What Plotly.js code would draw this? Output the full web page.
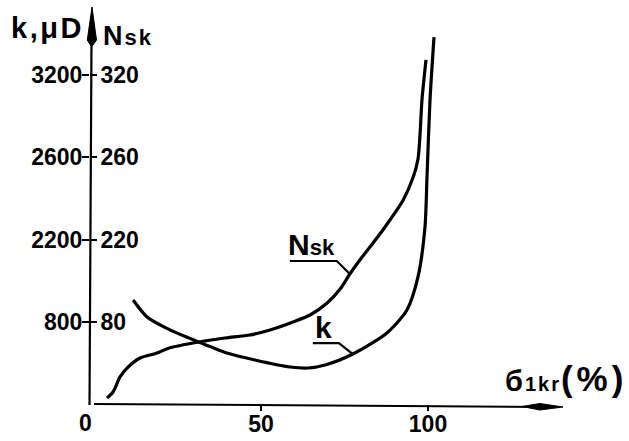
<!DOCTYPE html>
<html><head><meta charset="utf-8">
<script src="https://cdn.plot.ly/plotly-3.0.1.min.js"></script>
<style>html,body{margin:0;padding:0;background:#fff}</style>
</head><body>
<div id="chart" style="width:629px;height:441px"></div>
<script>
// ---- data (x: б1kr in %) ----
const nskX   = [3.9, 5.7, 7.8, 9.9, 13.8, 18.9, 22.5, 31.4, 39.2, 46.7, 52.7, 59.6, 64.7, 69.8, 73.7, 76.6, 79.6, 84.7, 88.6, 92.5, 95.5, 97.0, 97.6, 98.2, 99.4];
const nskVal = [5.8, 11.7, 26.3, 35, 44.7, 49.6, 54.5, 60.3, 64.2, 67.1, 72.0, 79.8, 91.5, 111.9, 135.7, 161.3, 185.1, 220.7, 229.5, 239, 250, 259, 276, 302, 331];
const kX     = [11.7, 15.8, 21.8, 31.4, 39.8, 48.2, 58.7, 64.1, 69.2, 77.5, 87.7, 93.7, 97.0, 99.1, 99.7, 100.6, 101.8];
const kVal   = [1170, 886, 736, 603, 496, 428, 360, 350, 379, 486, 691, 1000, 1562, 2261, 2504, 3018, 3477];

// axis labels (the drawn axis is broken: labelled ticks are equally spaced)
const kBreaks   = [0, 800, 2200, 2600, 3200];
const nskBreaks = [0, 80, 220, 260, 320];
const kTickVals   = [800, 2200, 2600, 3200];
const kTickText   = ['800', '2200', '2600', '3200'];
const nskTickVals = [80, 220, 260, 320];
const nskTickText = ['80', '220', '260', '320'];
const xTickVals = [50, 100];
const xTickText = ['50', '100'];
const nskLabelIdx = 15, kLabelIdx = 9;

// piecewise scale of the broken axis: labelled ticks sit one division apart
function toAxis(v, breaks) {
  let i = 1;
  while (i < breaks.length - 1 && v > breaks[i]) i++;
  const a = breaks[i - 1], b = breaks[i];
  return (i - 1) + (v - a) / (b - a);
}

const W = 629, H = 441, L = 90, B = 37, T = 0, R = 0;
const plotW = W - L - R, plotH = H - T - B;
const pxPerX = 3.34, x0px = 94, pxPerDiv = 82.25;
const xRange = [(L - x0px) / pxPerX, (W - R - x0px) / pxPerX];
const yRange = [0, plotH / pxPerDiv];
const PX = p => (p - L) / plotW;
const PY = p => (H - B - p) / plotH;

const FONT = 'Liberation Sans, Arial, sans-serif';
const ink = '#000';

const traces = [
  { x: nskX, y: nskVal.map(v => toAxis(v, nskBreaks)), yaxis: 'y2', mode: 'lines',
    line: { color: ink, width: 3.2, shape: 'spline', smoothing: 0.7 }, hoverinfo: 'skip', showlegend: false },
  { x: kX, y: kVal.map(v => toAxis(v, kBreaks)), yaxis: 'y', mode: 'lines',
    line: { color: ink, width: 3.2, shape: 'spline', smoothing: 0.7 }, hoverinfo: 'skip', showlegend: false }
];

const tickFont = { family: FONT, size: 23, color: ink, weight: 'bold' };

const nTipX = nskX[nskLabelIdx], nTipY = toAxis(nskVal[nskLabelIdx], nskBreaks);
const kTipX = kX[kLabelIdx], kTipY = toAxis(kVal[kLabelIdx], kBreaks);

const layout = {
  width: W, height: H,
  margin: { l: L, r: R, t: T, b: B, pad: 0 },
  paper_bgcolor: '#fff', plot_bgcolor: '#fff',
  showlegend: false,
  xaxis: { range: xRange, tickvals: xTickVals, ticktext: xTickText, ticks: 'outside', ticklen: 6,
           tickwidth: 2, tickcolor: ink, showgrid: false, zeroline: false, showline: false,
           tickfont: tickFont, ticklabelstandoff: -7, fixedrange: true },
  yaxis: { range: yRange, tickvals: kTickVals.map(v => toAxis(v, kBreaks)), ticktext: kTickText,
           ticks: 'outside', ticklen: 7, tickwidth: 2, tickcolor: ink, showgrid: false,
           zeroline: false, showline: false, tickfont: tickFont, ticklabelstandoff: -5, fixedrange: true },
  yaxis2: { range: yRange, overlaying: 'y', side: 'left', anchor: 'x',
            tickvals: nskTickVals.map(v => toAxis(v, nskBreaks)), ticktext: nskTickText,
            ticks: 'inside', ticklen: 7, tickwidth: 2, tickcolor: ink, ticklabelposition: 'inside',
            ticklabelstandoff: 5,
            showgrid: false, zeroline: false, showline: false, tickfont: tickFont, fixedrange: true },
  shapes: [
    // y axis line + arrow head
    { type: 'line', xref: 'paper', yref: 'paper', x0: PX(89.5), y0: PY(405), x1: PX(91.5), y1: PY(40),
      line: { color: ink, width: 2.2 } },
    { type: 'path', xref: 'paper', yref: 'paper',
      path: `M${PX(92)},${PY(7)} L${PX(87.3)},${PY(40)} L${PX(91.5)},${PY(47)} L${PX(96.5)},${PY(40)} Z`,
      fillcolor: ink, line: { color: ink, width: 1 } },
    // x axis line + arrow head
    { type: 'line', xref: 'paper', yref: 'paper', x0: PX(94), y0: PY(404), x1: PX(545), y1: PY(407),
      line: { color: ink, width: 2 } },
    { type: 'path', xref: 'paper', yref: 'paper',
      path: `M${PX(563)},${PY(407)} L${PX(540)},${PY(403.5)} L${PX(522)},${PY(406.5)} L${PX(540)},${PY(410)} Z`,
      fillcolor: ink, line: { color: ink, width: 1 } },
    // leader lines of the curve labels
    { type: 'path', xref: 'x', yref: 'y', xsizemode: 'pixel', ysizemode: 'pixel',
      xanchor: nTipX, yanchor: nTipY, path: 'M0,0 L-13,13 L-60,13', line: { color: ink, width: 2.2 } },
    { type: 'path', xref: 'x', yref: 'y', xsizemode: 'pixel', ysizemode: 'pixel',
      xanchor: kTipX, yanchor: kTipY, path: 'M0,0 L-14,11 L-40,11', line: { color: ink, width: 2.2 } }
  ],
  annotations: [
    { xref: 'paper', yref: 'paper', x: PX(47.5), y: PY(28), xanchor: 'center', yanchor: 'middle',
      text: '<span style="letter-spacing:2.5px">k,μD</span>', showarrow: false,
      font: { family: FONT, size: 29, color: ink, weight: 'bold' } },
    { xref: 'paper', yref: 'paper', x: PX(101), y: PY(36), xanchor: 'left', yanchor: 'middle',
      text: '<span style="letter-spacing:2px">N</span><span style="font-size:22px;letter-spacing:2px">sk</span>', showarrow: false,
      font: { family: FONT, size: 27, color: ink, weight: 'bold' } },
    { xref: 'paper', yref: 'paper', x: PX(85.5), y: PY(423), xanchor: 'center', yanchor: 'middle',
      text: '0', showarrow: false, font: tickFont },
    { xref: 'paper', yref: 'paper', x: PX(566), y: PY(378), xanchor: 'center', yanchor: 'middle',
      text: '<span style="letter-spacing:2px">б</span><span style="font-size:20px;letter-spacing:2px">1kr</span><span style="font-size:35px;letter-spacing:4px">(%)</span>', showarrow: false,
      font: { family: FONT, size: 29, color: ink, weight: 'bold' } },
    { xref: 'x', yref: 'y', x: nTipX, y: nTipY, xshift: -38, yshift: 29, xanchor: 'center', yanchor: 'middle',
      text: 'N<span style="font-size:22px">sk</span>', showarrow: false, borderpad: 0, borderwidth: 0,
      font: { family: FONT, size: 30, color: ink, weight: 'bold' } },
    { xref: 'x', yref: 'y', x: kTipX, y: kTipY, xshift: -29, yshift: 27, xanchor: 'center', yanchor: 'middle',
      text: 'k', showarrow: false, borderpad: 0, borderwidth: 0,
      font: { family: FONT, size: 30, color: ink, weight: 'bold' } }
  ]
};

Plotly.newPlot('chart', traces, layout, { staticPlot: true, displayModeBar: false });
</script>
</body></html>
